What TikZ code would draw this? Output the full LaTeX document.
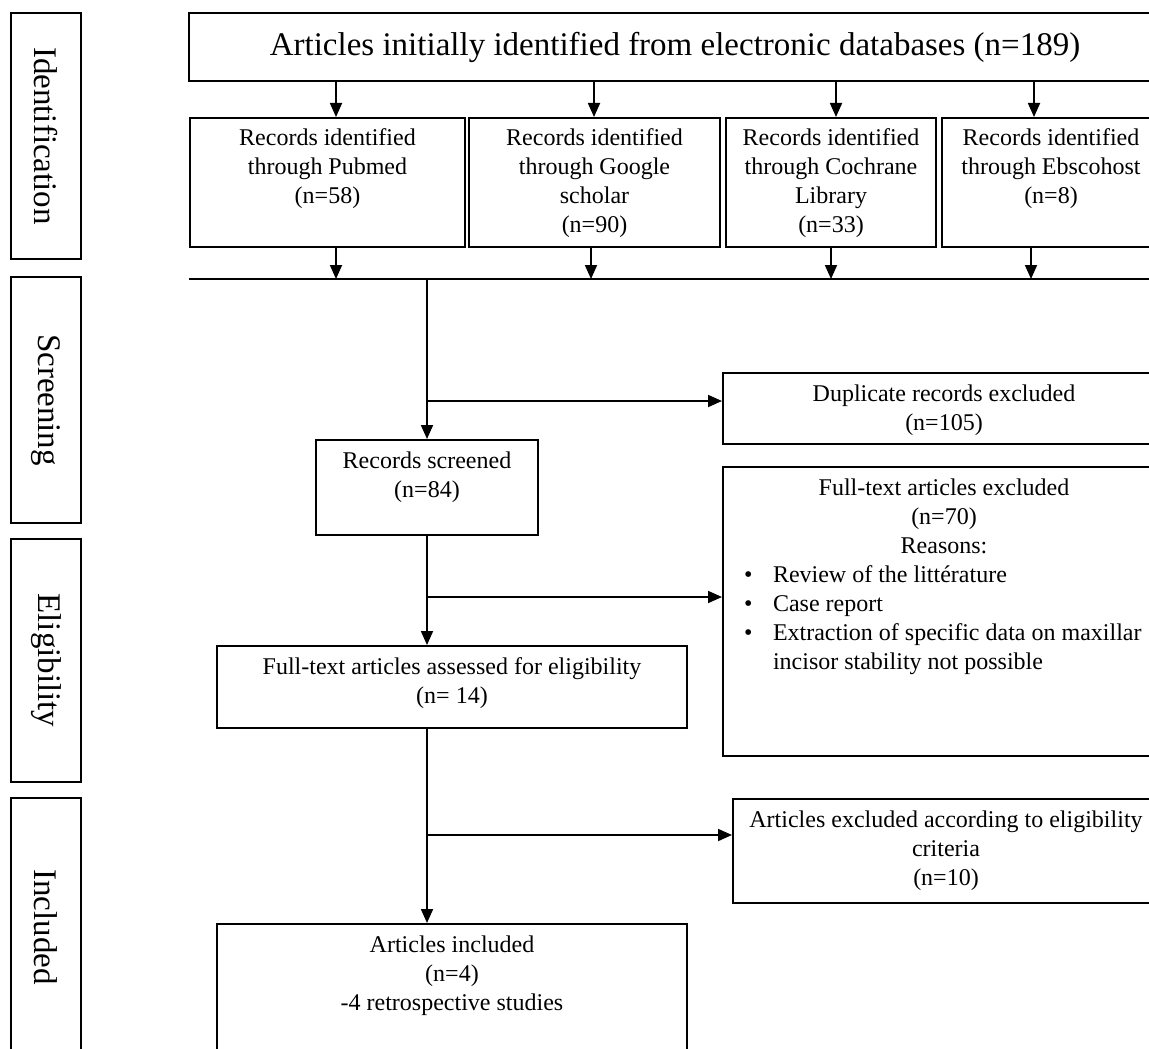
\documentclass[tikz,border=0pt]{standalone}
\usepackage{fontspec}
\setmainfont{Liberation Serif}
\usetikzlibrary{arrows.meta,calc}
% fixed-size cell, text hung from the top edge
\newcommand{\topcell}[3]{\parbox[c][#2][t]{#1}{\centering\rule{0pt}{14pt}#3}}
\tikzset{
  flow-box/.style={draw,line width=1pt,inner sep=0pt,
    font=\fontsize{12}{14.5}\selectfont},
  head-box/.style={draw,line width=1pt,inner sep=0pt,
    font=\fontsize{16.5}{19}\selectfont},
  phase-box/.style={draw,line width=1pt,inner sep=0pt,rotate=-90,
    minimum height=35pt,font=\fontsize{16.5}{19}\selectfont},
  arrow/.style={-{Triangle[length=7pt,width=6pt]},line width=0.9pt},
  link/.style={line width=0.9pt},
}
\begin{document}
\begin{tikzpicture}[x=0.5pt,y=-0.5pt]
  \useasboundingbox (0,0) rectangle (1149,1048);
  \clip (0,0) rectangle (1149,1048);
  % phases
  \node[phase-box,minimum width=123pt]   (ide)  at (46,136)   {Identification};
  \node[phase-box,minimum width=123pt]   (scrn) at (46,400)   {Screening};
  \node[phase-box,minimum width=121.5pt] (elig) at (46,660.5) {Eligibility};
  \node[phase-box,minimum width=129pt]   (incl) at (46,927)   {Included};
  % identification
  \node[head-box,minimum width=486pt,minimum height=34pt] (top) at (675,47)
    {Articles initially identified from electronic databases (n=189)};
  \node[flow-box,anchor=north west] (pub) at (189,117)
    {\topcell{137.5pt}{64.5pt}{Records identified\\through Pubmed\\(n=58)}};
  \node[flow-box,anchor=north west] (goo) at (468,117)
    {\topcell{125.5pt}{64.5pt}{Records identified\\through Google\\scholar\\(n=90)}};
  \node[flow-box,anchor=north west] (coc) at (725,117)
    {\topcell{105pt}{64.5pt}{Records identified\\through Cochrane\\Library\\(n=33)}};
  \node[flow-box,anchor=north west] (ebs) at (941,117)
    {\topcell{109pt}{64.5pt}{Records identified\\through Ebscohost\\(n=8)}};
  \coordinate (mergeL) at (189,279);
  \coordinate (mergeR) at (1160,279);
  % screening and after
  \node[flow-box,anchor=north west] (dup) at (722,372)
    {\topcell{221pt}{35.5pt}{Duplicate records excluded\\(n=105)}};
  \node[flow-box,anchor=north west] (scr) at (315,439)
    {\topcell{111pt}{47.5pt}{Records screened\\(n=84)}};
  \node[flow-box,anchor=north west] (fte) at (722,466)
    {\parbox[c][144.5pt][t]{221pt}{\centering\rule{0pt}{14pt}Full-text articles excluded\\(n=70)\\Reasons:\par
      \raggedright
      \hspace*{10.5pt}\makebox[14.5pt][l]{\textbullet}Review of the littérature\\
      \hspace*{10.5pt}\makebox[14.5pt][l]{\textbullet}Case report\\
      \hspace*{10.5pt}\makebox[14.5pt][l]{\textbullet}Extraction of specific data on maxillar\\
      \hspace*{25pt}incisor stability not possible}};
  \node[flow-box,anchor=north west] (fta) at (216,645)
    {\topcell{235pt}{41pt}{Full-text articles assessed for eligibility\\(n= 14)}};
  \node[flow-box,anchor=north west] (axc) at (732,798)
    {\topcell{213pt}{52pt}{Articles excluded according to eligibility\\criteria\\(n=10)}};
  \node[flow-box,anchor=north west] (inc) at (216,923)
    {\topcell{235pt}{68pt}{Articles included\\(n=4)\\-4 retrospective studies}};
  \coordinate (b1) at (scr.north |- 0,401);
  \coordinate (b2) at (scr.south |- 0,597);
  \coordinate (b3) at (scr.south |- 0,835);
  % connectors
  \foreach \n/\x in {pub/336,goo/594,coc/836,ebs/1034}
    \draw[arrow] (top.south -| \x,0) -- (\n.north -| \x,0);
  \foreach \n/\x in {pub/336,goo/591,coc/831,ebs/1031}
    \draw[arrow] (\n.south -| \x,0) -- (mergeL -| \x,0);
  \draw[link]  (mergeL) -- (mergeR);
  \draw[arrow] (mergeL -| scr.north) -- (scr.north);
  \draw[arrow] (b1) -- (dup.west |- b1);
  \draw[arrow] (scr.south) -- (fta.north -| scr.south);
  \draw[arrow] (b2) -- (fte.west |- b2);
  \draw[arrow] (fta.south -| scr.south) -- (inc.north -| scr.south);
  \draw[arrow] (b3) -- (axc.west |- b3);
\end{tikzpicture}
\end{document}
